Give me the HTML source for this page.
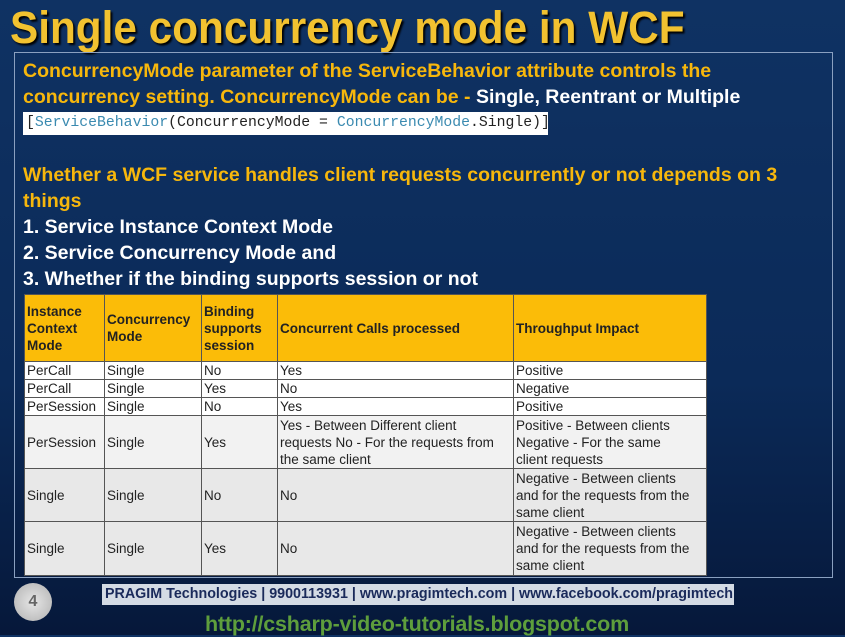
<!DOCTYPE html>
<html><head><meta charset="utf-8"><style>
*{margin:0;padding:0;box-sizing:border-box}
body{width:845px;height:635px;overflow:hidden;background:linear-gradient(#0f3263 0%,#0b2a58 60%,#06183a 100%);font-family:"Liberation Sans",sans-serif;position:relative}
.abs{position:absolute;white-space:nowrap}
#title{left:10px;top:2px;font-size:45px;font-weight:bold;color:#f2c230;text-shadow:2px 2px 2px #000;transform:scaleX(0.94);transform-origin:left top}
#box{left:14px;top:52px;width:819px;height:526px;border:1px solid #8aa0c0}
.y{color:#f7b70c;font-weight:bold;font-size:19.5px}
.w{color:#fff;font-weight:bold;font-size:19.5px}
#code{left:23px;top:112px;width:525px;height:23px;background:#fff;font-family:"Liberation Mono",monospace;font-size:14.8px;line-height:23px;padding-left:3px;color:#222;overflow:hidden}
#code .k{color:#3a8ab0}
table{position:absolute;left:24px;top:294px;width:682px;border-collapse:collapse;font-size:13.5px;color:#222;table-layout:fixed}
td,th{border:1px solid #555;padding:0 2px;vertical-align:middle;text-align:left;line-height:17px;overflow:hidden}
td:last-child{padding-right:10px}
th{background:#fbbc08;font-weight:bold;height:67px;font-size:13.5px}
tr.r1 td{background:#fff}
tr.r2 td{background:#f2f2f2}
tr.r3 td{background:#e8e8e8}
#foot{left:102px;top:584px;width:632px;height:21px;background:#d4dbe4;color:#1a2a5a;font-weight:bold;font-size:14.3px;line-height:21px;padding-left:3px;overflow:hidden}
#num{left:14px;top:583px;width:38px;height:38px;border-radius:50%;background:radial-gradient(#e6e6e6,#b0b0b0);color:#666;font-size:16px;text-align:center;line-height:38px;font-weight:bold}
#url{left:205px;top:612px;color:#5e9e3c;font-size:21.5px;font-weight:bold;letter-spacing:-0.2px}
</style></head><body>
<div class="abs" id="title">Single concurrency mode in WCF</div>
<div class="abs" id="box"></div>
<div class="abs y" style="left:23px;top:60px">ConcurrencyMode parameter of the ServiceBehavior attribute controls the</div>
<div class="abs y" style="left:23px;top:86px">concurrency setting. ConcurrencyMode can be - <span class="w">Single, Reentrant or Multiple</span></div>
<div class="abs" id="code">[<span class="k">ServiceBehavior</span>(ConcurrencyMode = <span class="k">ConcurrencyMode</span>.Single)]</div>
<div class="abs y" style="left:23px;top:164px">Whether a WCF service handles client requests concurrently or not depends on 3</div>
<div class="abs y" style="left:23px;top:190px">things</div>
<div class="abs w" style="left:23px;top:216px">1. Service Instance Context Mode</div>
<div class="abs w" style="left:23px;top:242px">2. Service Concurrency Mode and</div>
<div class="abs w" style="left:23px;top:268px">3. Whether if the binding supports session or not</div>
<table>
<colgroup><col style="width:80px"><col style="width:97px"><col style="width:76px"><col style="width:236px"><col style="width:193px"></colgroup>
<tr><th>Instance Context Mode</th><th>Concurrency Mode</th><th>Binding supports session</th><th>Concurrent Calls processed</th><th>Throughput Impact</th></tr>
<tr class="r1" style="height:17px"><td>PerCall</td><td>Single</td><td>No</td><td>Yes</td><td>Positive</td></tr>
<tr class="r1" style="height:18px"><td>PerCall</td><td>Single</td><td>Yes</td><td>No</td><td>Negative</td></tr>
<tr class="r1" style="height:18px"><td>PerSession</td><td>Single</td><td>No</td><td>Yes</td><td>Positive</td></tr>
<tr class="r2" style="height:53px"><td>PerSession</td><td>Single</td><td>Yes</td><td>Yes - Between Different client requests No - For the requests from the same client</td><td>Positive - Between clients Negative - For the same client requests</td></tr>
<tr class="r3" style="height:53px"><td>Single</td><td>Single</td><td>No</td><td>No</td><td>Negative - Between clients and for the requests from the same client</td></tr>
<tr class="r3" style="height:54px"><td>Single</td><td>Single</td><td>Yes</td><td>No</td><td>Negative - Between clients and for the requests from the same client</td></tr>
</table>
<div class="abs" id="num">4</div>
<div class="abs" id="foot">PRAGIM Technologies | 9900113931 | www.pragimtech.com | www.facebook.com/pragimtech</div>
<div class="abs" id="url">http://csharp-video-tutorials.blogspot.com</div>
</body></html>
